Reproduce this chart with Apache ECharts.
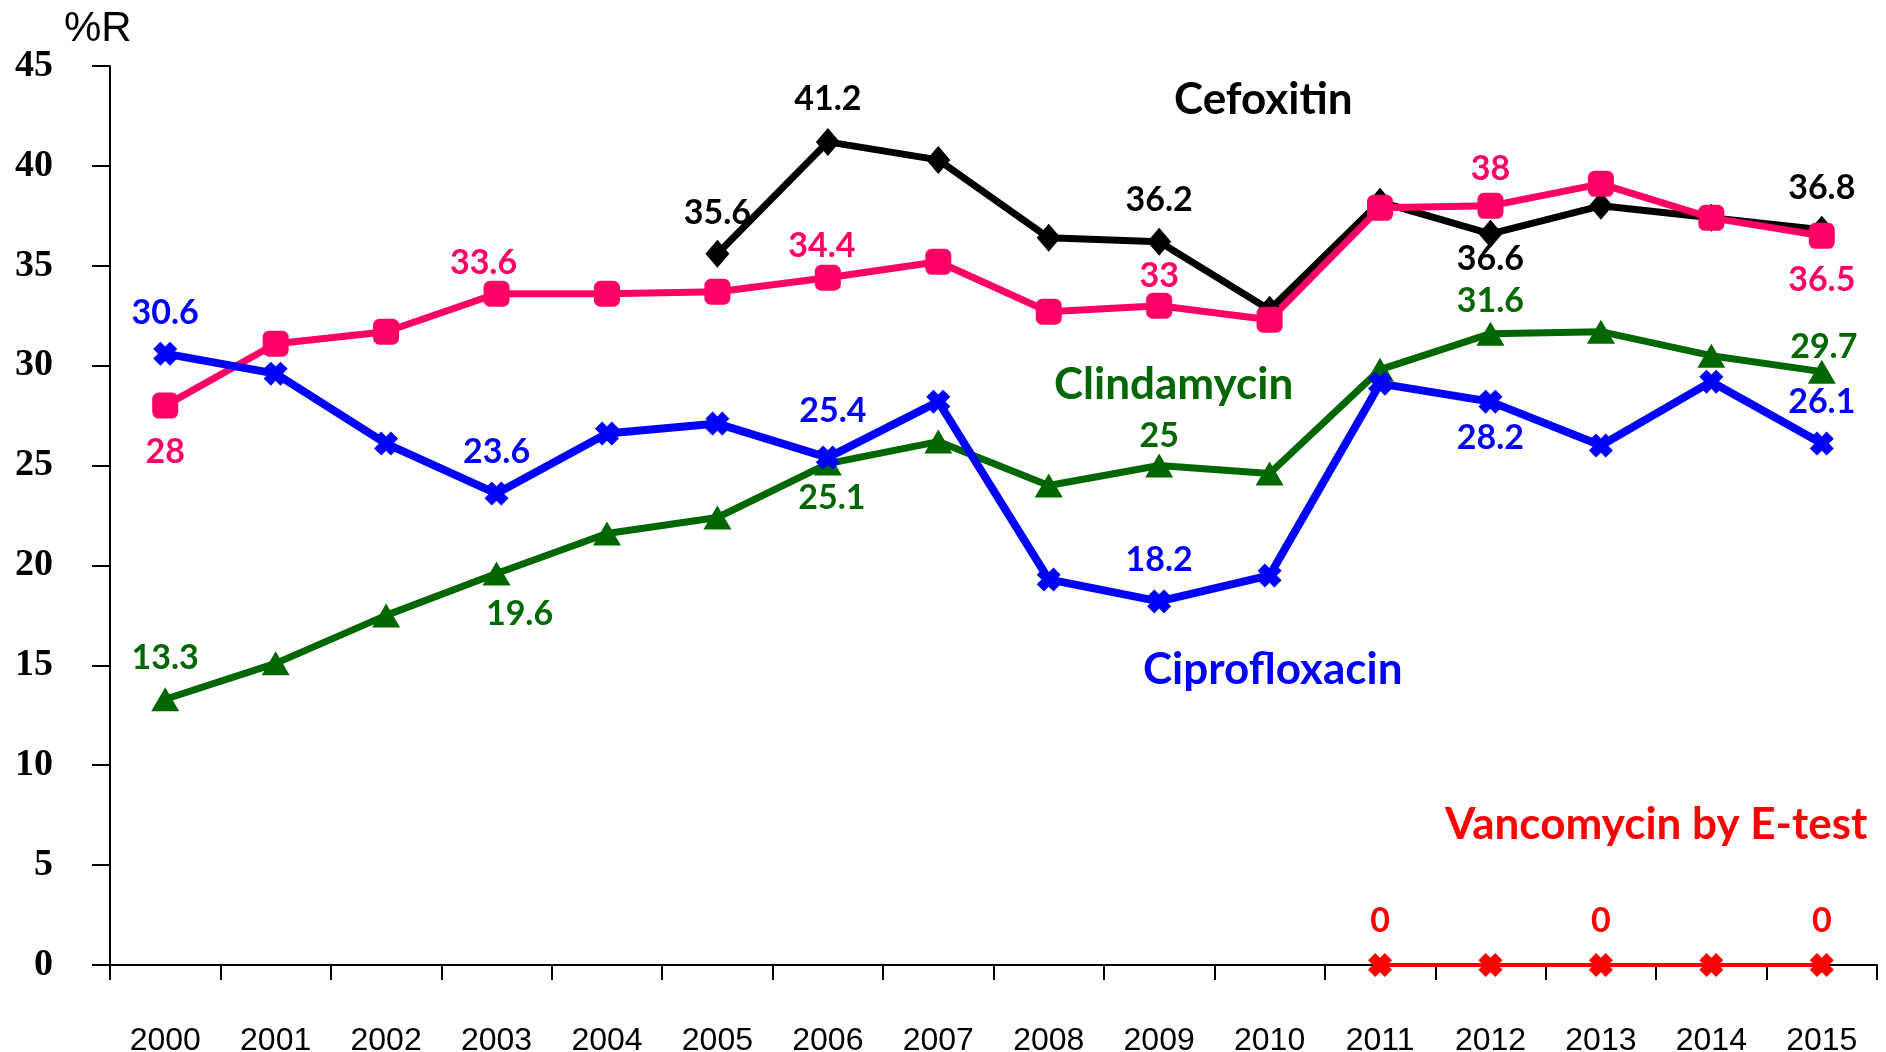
<!DOCTYPE html>
<html>
<head>
<meta charset="utf-8">
<script src="https://cdn.jsdelivr.net/npm/echarts@6/dist/echarts.min.js"></script>
<style>
  html, body { margin: 0; padding: 0; background: #fff; }
  #chart { width: 1886px; height: 1052px; }
</style>
</head>
<body>
<div id="chart"></div>
<script>
const years = ["2000", "2001", "2002", "2003", "2004", "2005", "2006", "2007",
  "2008", "2009", "2010", "2011", "2012", "2013", "2014", "2015"];
const yTicks = [0, 5, 10, 15, 20, 25, 30, 35, 40, 45];

const cefoxitin = ["-", "-", "-", "-", "-", 35.6, 41.2, 40.3, 36.4, 36.2, 32.8, 38.2, 36.6, 38.0, 37.4, 36.8];
const pink = [28, 31.1, 31.7, 33.6, 33.6, 33.7, 34.4, 35.2, 32.7, 33, 32.3, 37.9, 38, 39.1, 37.4, 36.5];
const ciprofloxacin = [30.6, 29.6, 26.1, 23.6, 26.6, 27.1, 25.4, 28.2, 19.3, 18.2, 19.5, 29.1, 28.2, 26.0, 29.2, 26.1];
const clindamycin = [13.3, 15.1, 17.5, 19.6, 21.6, 22.4, 25.1, 26.2, 24.0, 25, 24.6, 29.8, 31.6, 31.7, 30.5, 29.7];
const vancomycin = ["-", "-", "-", "-", "-", "-", "-", "-", "-", "-", "-", 0, 0, 0, 0, 0];

// labelled points: index -> [position, distance, x shift]
const cefoxitinLabels = { 5: ["top", 10, 0], 6: ["top", 12, 0], 9: ["top", 11, 0], 12: ["bottom", -6, 0], 15: ["top", 11, 0] };
const pinkLabels = { 0: ["bottom", 16, 0], 3: ["top", 1, -13], 6: ["top", 2, -6], 9: ["top", 0, 0], 12: ["top", 7, 0], 15: ["bottom", 14, 0] };
const ciproLabels = { 0: ["top", 12, 0], 3: ["top", 12, 0], 6: ["top", 18, 5], 9: ["top", 12, 0], 12: ["bottom", 7, 0], 15: ["top", 13, 0] };
const clindaLabels = { 0: ["top", 12, 0], 3: ["bottom", 12, 23], 6: ["bottom", 5, 4], 9: ["top", 1, 0], 12: ["top", 4, 0], 15: ["top", -4, 2] };
const vancoLabels = { 11: ["top", 15, 0], 13: ["top", 15, 0], 15: ["top", 15, 0] };

const crossPath = "path://M0,3 L3,0 L5,2 L7,0 L10,3 L8,5 L10,7 L7,10 L5,8 L3,10 L0,7 L2,5 Z";

function withLabels(values, labels, color) {
  return values.map((v, i) => {
    const l = labels[i];
    if (!l) return v;
    return {
      value: v,
      label: {
        show: true,
        position: l[0],
        distance: l[1],
        offset: [l[2], 0],
        color: color,
        fontFamily: "Lato",
        fontWeight: "bold",
        fontSize: 34
      }
    };
  });
}

function lineSeries(name, values, color, symbol, symbolSize, width) {
  return {
    name: name,
    type: "line",
    data: values,
    symbol: symbol,
    symbolSize: symbolSize,
    showAllSymbol: true,
    lineStyle: { color: color, width: width },
    itemStyle: { color: color },
    emphasis: { disabled: true }
  };
}

const chart = echarts.init(document.getElementById("chart"));
chart.setOption({
  animation: false,
  backgroundColor: "#fff",
  grid: { left: 110, right: 9, top: 66, bottom: 87, outerBoundsMode: "none", containLabel: false },
  xAxis: {
    type: "category",
    data: years,
    boundaryGap: true,
    axisLine: { lineStyle: { color: "#000", width: 2 } },
    axisTick: { show: true, length: 15, lineStyle: { color: "#000", width: 2 } },
    axisLabel: { margin: 60, color: "#000", fontFamily: "Liberation Sans", fontSize: 32 },
    splitLine: { show: false }
  },
  yAxis: {
    type: "value",
    min: yTicks[0],
    max: yTicks[yTicks.length - 1],
    interval: 5,
    axisLine: { show: true, lineStyle: { color: "#000", width: 2 } },
    axisTick: { show: true, length: 18, lineStyle: { color: "#000", width: 2 } },
    axisLabel: { margin: 57, color: "#000", fontFamily: "Liberation Serif", fontWeight: "bold", fontSize: 38 },
    splitLine: { show: false }
  },
  graphic: [
    { type: "text", left: 64, top: 8, style: { text: "%R", fill: "#000", font: "42px 'Liberation Sans'" } },
    { type: "text", left: 1174, top: 78, style: { text: "Cefoxitin", fill: "#000", font: "bold 44px Lato" } },
    { type: "text", left: 1054, top: 363, style: { text: "Clindamycin", fill: "#006600", font: "bold 44px Lato" } },
    { type: "text", left: 1143, top: 648, style: { text: "Ciprofloxacin", fill: "#0000ff", font: "bold 44px Lato" } },
    { type: "text", left: 1445, top: 803, style: { text: "Vancomycin by E-test", fill: "#ff0000", font: "bold 44px Lato" } }
  ],
  series: [
    lineSeries("Clindamycin", withLabels(clindamycin, clindaLabels, "#006600"),
      "#006600", "triangle", [28, 24], 7),
    lineSeries("Cefoxitin", withLabels(cefoxitin, cefoxitinLabels, "#000000"),
      "#000000", "diamond", [24, 28], 7),
    lineSeries("Erythromycin", withLabels(pink, pinkLabels, "#ff0066"),
      "#ff0066", "roundRect", 26, 7),
    lineSeries("Ciprofloxacin", withLabels(ciprofloxacin, ciproLabels, "#0000ff"),
      "#0000ff", crossPath, 24, 8),
    lineSeries("Vancomycin by E-test", withLabels(vancomycin, vancoLabels, "#ff0000"),
      "#ff0000", crossPath, 24, 4)
  ]
});
</script>
</body>
</html>
